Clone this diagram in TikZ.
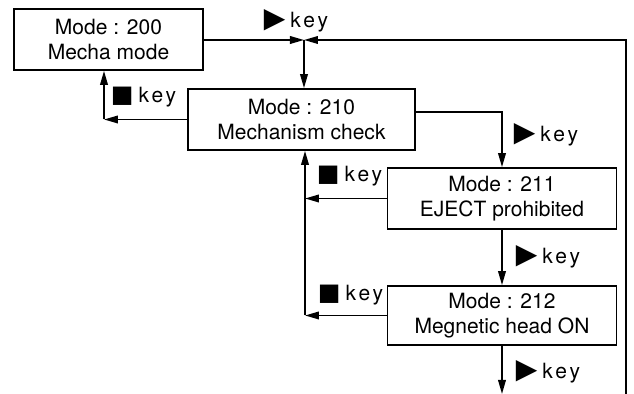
\documentclass[tikz,border=0pt]{standalone}
\usepackage{fontspec}
\setmainfont{TeX Gyre Heros}
\newfontfamily\symfont{DejaVu Sans}
\usetikzlibrary{arrows.meta}

\newcommand{\keytxt}{{\addfontfeature{LetterSpace=14}key}}
\newcommand{\fwdkey}{{\symfont\fontsize{14}{14}\selectfont ▶}\hspace{2.5pt}\keytxt}
\newcommand{\stopkey}{{\symfont\fontsize{12}{12}\selectfont ■}\hspace{2.5pt}\keytxt}

\begin{document}
\begin{tikzpicture}[x=0.5pt, y=-0.5pt, line width=0.85pt,
    >={Triangle[length=7pt,width=3.8pt]},
    mode/.style={draw, align=center, inner sep=0pt, minimum height=30.5pt,
        font=\fontsize{10.5}{12.5}\selectfont},
    lbl/.style={anchor=west, inner sep=0pt, font=\fontsize{10.5}{11}\selectfont}]
    \useasboundingbox (0,0) rectangle (634,394);

    \node[mode, minimum width=94.5pt] (b200) at (108.5,39.5) {Mode : 200\\Mecha mode};
    \node[mode, minimum width=113.5pt] (b210) at (301.5,119.5) {Mode : 210\\Mechanism check};
    \node[mode, minimum width=114.5pt] (b211) at (502,198.5) {Mode : 211\\EJECT prohibited};
    \node[mode, minimum width=114.5pt, minimum height=29.5pt] (b212) at (502,315.5) {Mode : 212\\Megnetic head ON};

    \node[lbl] (k200) at (263,21) {\fwdkey};
    \node[lbl] (s210) at (110,97) {\stopkey};
    \node[lbl] (k210) at (513,135) {\fwdkey};
    \node[lbl] (s211) at (316,176) {\stopkey};
    \node[lbl] (k211) at (515,257) {\fwdkey};
    \node[lbl] (s212) at (317,295) {\stopkey};
    \node[lbl] (k212) at (515,372) {\fwdkey};

    \coordinate (j) at (304,40);
    \coordinate (loopend) at (626,394);
    \coordinate (out) at (502,394);
    \coordinate (c1) at ([xshift=-2.25pt]b200.south);
    \coordinate (c2) at ([xshift=1.75pt]b210.south);

    \draw[->] (b200.east |- j) -- (j);
    \draw[->] (loopend) |- (j);
    \draw[->] (j) -- (j |- b210.north);
    \draw[->] (b210.west) -- (b210.west -| c1);
    \draw[->] (b210.west -| c1) -- (c1);
    \draw[->] ([yshift=3.75pt]b210.east) -| (b211.north);
    \draw[->] (b211.west) -- (b211.west -| c2);
    \draw[->] (b212.west) -- (b212.west -| c2);
    \draw[->] (b212.west -| c2) -- (c2);
    \draw[->] (b211.south) -- (b212.north);
    \draw[->] (b212.south) -- (out);
\end{tikzpicture}
\end{document}
